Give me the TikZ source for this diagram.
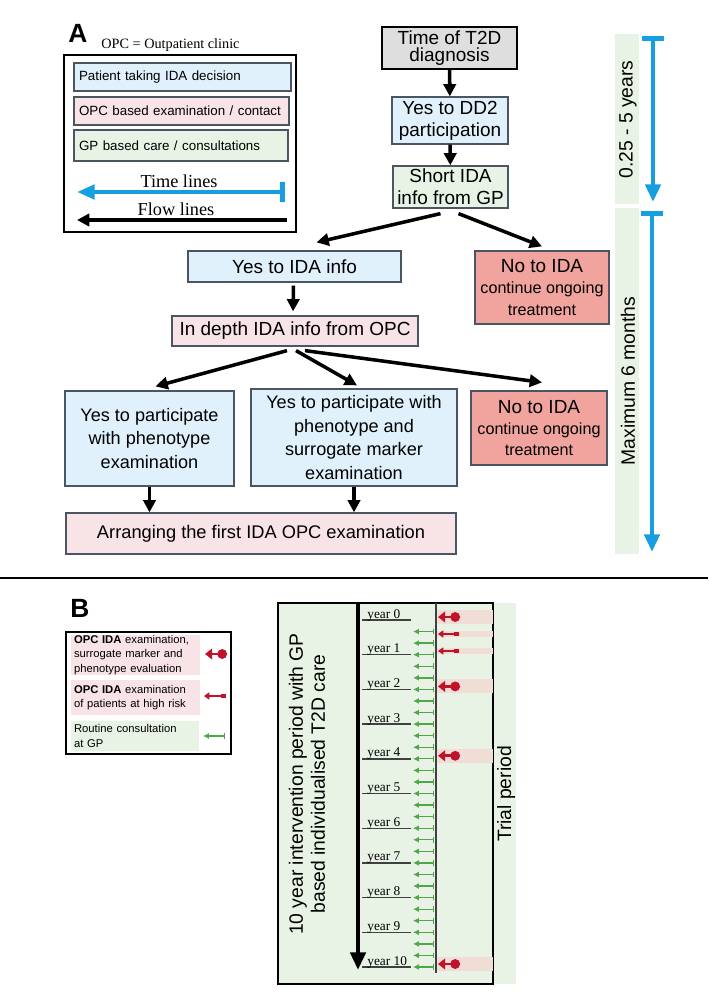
\documentclass[tikz,border=0pt]{standalone}
\usepackage{fontspec}
\setmainfont{Liberation Sans}
\newfontfamily\seriffont{Liberation Serif}
\usepackage{tikz}
\usetikzlibrary{calc}
\usetikzlibrary{arrows.meta}
\usepackage{color}

\definecolor{idablue}{RGB}{224,241,252}
\definecolor{opcpink}{RGB}{248,228,231}
\definecolor{gpgreen}{RGB}{232,243,229}
\definecolor{nored}{RGB}{241,163,158}
\definecolor{t2dgray}{RGB}{222,222,222}
\definecolor{edgegray}{RGB}{75,85,100}
\definecolor{lineblue}{RGB}{22,158,226}
\definecolor{markred}{RGB}{192,18,42}
\definecolor{markgreen}{RGB}{78,168,72}
\definecolor{bandpink}{RGB}{239,221,214}

\newcommand{\smalltxt}{\fontsize{9.2}{12}\selectfont}

\tikzset{
  flowbox/.style={draw=edgegray, line width=0.7pt, inner sep=0pt, align=center, font=\fontsize{10.8}{12.5}\selectfont},
  keybox/.style={draw=edgegray, line width=0.6pt, inner xsep=0.1cm, inner ysep=0pt, align=left, font=\fontsize{7.6}{9}\selectfont},
  keyrow/.style={inner xsep=0.06cm, inner ysep=0pt, align=left, font=\fontsize{6.4}{8.2}\selectfont},
  flow/.style={line width=2pt, -{Triangle[length=7pt,width=7pt]}},
  timeline/.style={draw=lineblue, line width=2.8pt, {Bar[width=12pt]}-{Triangle[length=10pt,width=8.5pt]}},
  sidelabel/.style={rotate=90, font=\fontsize{11}{12.5}\selectfont},
  yearlabel/.style={inner sep=0pt, font=\seriffont\fontsize{7.6}{8}\selectfont},
  bigmark/.style={draw=markred, line width=1.5pt, {Circle[length=5.5pt]}-{Triangle[length=4pt,width=6pt]}},
  smallmark/.style={draw=markred, line width=0.9pt, {Square[length=2.6pt,width=2.6pt]}-{Triangle[length=3pt,width=4pt]}},
  gpmark/.style={draw=markgreen, line width=0.75pt, {Bar[width=3.2pt]}-{Latex[length=3.4pt,width=3.4pt]}},
}

\begin{document}
\begin{tikzpicture}[x=0.02cm, y=-0.02cm]
\useasboundingbox (0,0) rectangle (708,1001);

% panel A: key
\node [font=\fontsize{15}{15}\selectfont\bfseries] (labela) at (78,33) {A};
\node [font=\seriffont\fontsize{8.1}{9}\selectfont] (opcnote) at (170.5,45) {OPC = Outpatient clinic};
\draw [line width=0.8pt] (64,55) rectangle (296,232);
\node [keybox, fill=idablue, text width=4.14cm, minimum height=0.56cm] (keypatient) at (182.5,77) {Patient taking IDA decision};
\node [keybox, fill=opcpink, text width=4.10cm, minimum height=0.56cm] (keyopc) at (181.5,111) {OPC based examination / contact};
\node [keybox, fill=gpgreen, text width=4.08cm, minimum height=0.62cm] (keygp) at (181,145.5) {GP based care / consultations};
\node [font=\seriffont\fontsize{10.4}{11}\selectfont] (keytime) at (179,181) {Time lines};
\node [font=\seriffont\fontsize{10.4}{11}\selectfont] (keyflow) at (176,209) {Flow lines};
\coordinate (keytimeright) at (285,192);
\coordinate (keytimeleft) at (77,192);
\coordinate (keyflowright) at (287,220);
\coordinate (keyflowleft) at (77,220);
\draw [timeline, {Bar[width=11pt]}-{Triangle[length=10pt,width=8pt]}] (keytimeright) -- (keytimeleft);
\draw [flow] (keyflowright) -- (keyflowleft);

% panel A: flow chart
\node [flowbox, fill=t2dgray, draw=black, minimum width=2.70cm, minimum height=0.84cm, font=\fontsize{10.8}{9.6}\selectfont] (t2d) at (449.5,48) {Time of T2D\\diagnosis};
\node [flowbox, fill=idablue, minimum width=2.32cm, minimum height=0.94cm] (dd2) at (450,120.5) {Yes to DD2\\participation};
\node [flowbox, fill=gpgreen, minimum width=2.30cm, minimum height=0.84cm] (shortgp) at (450.5,187) {Short IDA\\info from GP};
\node [flowbox, fill=idablue, minimum width=4.26cm, minimum height=0.62cm] (yesinfo) at (294.5,266.5) {Yes to IDA info};
\node [flowbox, fill=nored, minimum width=2.68cm, minimum height=1.46cm, font=\fontsize{10.8}{12}\selectfont] (noida1) at (542,287.5) {No to IDA\\\smalltxt continue ongoing\\\smalltxt treatment};
\node [flowbox, fill=opcpink, minimum width=4.92cm, minimum height=0.60cm] (indepth) at (295,331) {In depth IDA info from OPC};
\node [flowbox, fill=idablue, minimum width=3.38cm, minimum height=1.90cm, font=\fontsize{10.3}{13.6}\selectfont] (phen) at (149.5,438.5) {Yes to participate\\with phenotype\\examination};
\node [flowbox, fill=idablue, minimum width=4.12cm, minimum height=1.94cm, font=\fontsize{10.3}{13.6}\selectfont] (surr) at (354,437.5) {Yes to participate with\\phenotype and\\surrogate marker\\examination};
\node [flowbox, fill=nored, minimum width=2.72cm, minimum height=1.48cm, font=\fontsize{10.8}{12}\selectfont] (noida2) at (539,428) {No to IDA\\\smalltxt continue ongoing\\\smalltxt treatment};
\node [flowbox, fill=opcpink, minimum width=7.80cm, minimum height=0.82cm, font=\fontsize{10.4}{12}\selectfont] (arrange) at (261,533.5) {Arranging the first IDA OPC examination};

\draw [flow] (t2d) -- (dd2);
\draw [flow] (dd2) -- (shortgp);
\draw [flow] ($(shortgp.south)+(-10,5)$) -- ($(yesinfo.north)+(22,-8)$);
\draw [flow] ($(shortgp.south)+(8,5)$) -- ($(noida1.north)+(0,-4)$);
\draw [flow] ($(yesinfo.south)+(-1,3)$) -- ($(indepth.north)+(-2,-4)$);
\draw [flow] ($(indepth.south)+(-8,4)$) -- ($(phen.north)+(6,-4)$);
\draw [flow] ($(indepth.south)+(1,4)$) -- ($(surr.north)+(3,-3)$);
\draw [flow] ($(indepth.south)+(10,4)$) -- ($(noida2.north)+(3,-8)$);
\draw [flow] (phen.south) -- (phen.south |- arrange.north);
\draw [flow] (surr.south) -- (surr.south |- arrange.north);

% panel A: time spans
\fill [gpgreen] (615,34) rectangle (639,204);
\fill [gpgreen] (615,208) rectangle (639,554);
\node [sidelabel] (span1text) at (628,119.5) {0.25 - 5 years};
\node [sidelabel] (span2text) at (628,381) {Maximum 6 months};
\coordinate (span1top) at (653,36);
\coordinate (span1end) at (653,202);
\coordinate (span2top) at (652,211);
\coordinate (span2end) at (652,552);
\draw [timeline] (span1top) -- (span1end);
\draw [timeline] (span2top) -- (span2end);

% separator
\draw [line width=1pt] (0,578) -- (708,578);

% panel B: key
\node [font=\fontsize{15}{15}\selectfont\bfseries] (labelb) at (80,608) {B};
\draw [line width=0.8pt] (66,632) rectangle (231,754);
\node [keyrow, fill=opcpink, text width=2.46cm, minimum height=0.80cm] (keyfull) at (135.5,655) {\textbf{OPC IDA} examination,\\surrogate marker and\\phenotype evaluation};
\node [keyrow, fill=opcpink, text width=2.46cm, minimum height=0.70cm] (keyrisk) at (135.5,697.5) {\textbf{OPC IDA} examination\\of patients at high risk};
\node [keyrow, fill=gpgreen, text width=2.44cm, minimum height=0.60cm] (keyroutine) at (135,736) {Routine consultation\\at GP};
\draw [bigmark] (227,654) -- (205,654);
\draw [smallmark] (226,696) -- (204,696);
\draw [gpmark] (225,736) -- (203,736);

% panel B: time line
\fill [gpgreen] (278,603) rectangle (516,984);
\draw [line width=0.9pt] (278,603) rectangle (493,984);
\draw [line width=0.6pt, draw=darkgray] (436,603) -- (436,973);
\node [sidelabel, align=center] (periodtext) at (307,784) {10 year intervention period with GP\\based individualised T2D care};
\node [sidelabel] (trialtext) at (506,794) {Trial period};

% bands behind the OPC visits
\foreach \yr in {0,2,4,10}
  \fill [bandpink] (437,{610+\yr*34.7}) rectangle (493,{624+\yr*34.7});
\fill [bandpink] (437,631) rectangle (493,637);
\fill [bandpink] (437,648) rectangle (493,654);

% years
\foreach \yr in {0,...,10} {
  \draw [line width=0.8pt, draw=darkgray] (362,{620+\yr*34.7}) -- (411,{620+\yr*34.7});
  \node [yearlabel, anchor=base west] (yr\yr) at (367,{618+\yr*34.7}) {year \yr};
}
\draw [line width=2.7pt, -{Triangle[length=10pt,width=8.5pt]}] (358,603) -- (358,970);

% visits
\foreach \k in {1,...,30}
  \draw [gpmark] (434,{620+\k*34.7/3}) -- (413,{620+\k*34.7/3});
\foreach \yr in {0,2,4,10}
  \draw [bigmark] (460,{617+\yr*34.7}) -- (438,{617+\yr*34.7});
\draw [smallmark] (459,634) -- (438,634);
\draw [smallmark] (459,651) -- (438,651);

\end{tikzpicture}
\end{document}
